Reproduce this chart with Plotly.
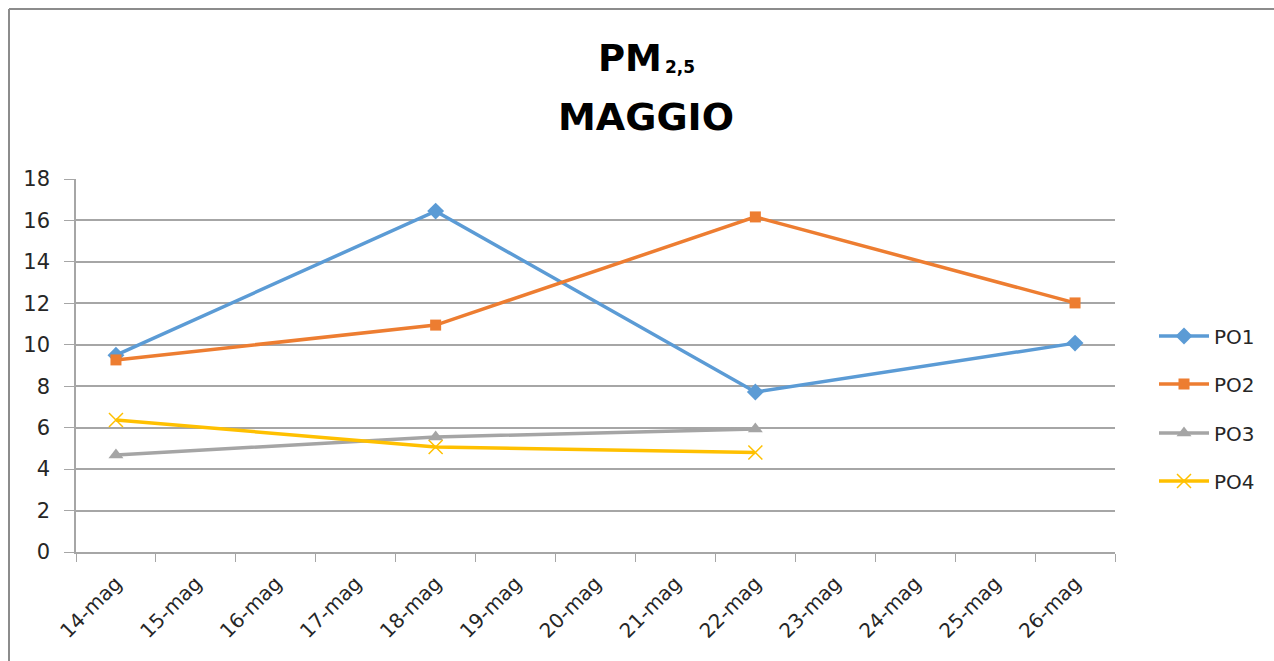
import plotly.graph_objects as go

# Category axis: every day from 14 to 26 May
dates = ["14-mag", "15-mag", "16-mag", "17-mag", "18-mag", "19-mag", "20-mag",
         "21-mag", "22-mag", "23-mag", "24-mag", "25-mag", "26-mag"]

# Measured PM2.5 concentrations per sampling point
po1_dates = ["14-mag", "18-mag", "22-mag", "26-mag"]
po1_vals = [9.5, 16.45, 7.72, 10.08]

po2_dates = ["14-mag", "18-mag", "22-mag", "26-mag"]
po2_vals = [9.27, 10.95, 16.17, 12.02]

po3_dates = ["14-mag", "18-mag", "22-mag"]
po3_vals = [4.68, 5.55, 5.94]

po4_dates = ["14-mag", "18-mag", "22-mag"]
po4_vals = [6.37, 5.07, 4.8]

y_ticks = [0, 2, 4, 6, 8, 10, 12, 14, 16, 18]

W, H = 1274, 661
L, R, T, B = 76, 1115, 179, 552  # plot area in pixels
PW, PH = R - L, B - T


def px_x(px):
    return (px - L) / PW


def px_y(py):
    return (B - py) / PH


FONT = "DejaVu Sans, sans-serif"
TXT = "#262626"
AXIS = "#A6A6A6"

series = [
    ("PO1", po1_dates, po1_vals, "#5B9BD5", dict(symbol="diamond", size=13), "legend", 336),
    ("PO2", po2_dates, po2_vals, "#ED7D31", dict(symbol="square", size=11), "legend2", 384),
    ("PO3", po3_dates, po3_vals, "#A5A5A5", dict(symbol="triangle-up", size=13), "legend3", 433),
    ("PO4", po4_dates, po4_vals, "#FFC000", dict(symbol="x-thin-open", size=14,
                                                 line=dict(width=1.5, color="#FFC000")), "legend4", 481),
]

fig = go.Figure()
for name, xs, ys, color, marker, leg, _ in series:
    fig.add_trace(go.Scatter(
        x=xs, y=ys, name=name, mode="lines+markers",
        line=dict(color=color, width=3.5),
        marker=dict(color=color, **marker),
        legend=leg,
    ))

legend_common = dict(
    font=dict(family=FONT, size=20, color=TXT),
    bgcolor="rgba(0,0,0,0)",
    xanchor="left", yanchor="middle",
    itemwidth=50,
)
layout_legends = {}
for name, _, _, _, _, leg, py in series:
    layout_legends[leg] = dict(x=px_x(1154), y=px_y(py), **legend_common)

fig.update_layout(
    width=W, height=H,
    margin=dict(l=L, r=W - R, t=T, b=H - B),
    paper_bgcolor="white", plot_bgcolor="white",
    font=dict(family=FONT, color=TXT),
    showlegend=True,
    xaxis=dict(
        type="category", categoryorder="array", categoryarray=dates,
        tickvals=dates, ticktext=dates,
        range=[-0.5, len(dates) - 0.5],
        tickson="boundaries", ticks="outside", ticklen=8, tickcolor=AXIS,
        showgrid=False, showline=True, linecolor=AXIS, linewidth=1.5,
        tickangle=-45, tickfont=dict(family=FONT, size=20, color=TXT),
        zeroline=False, ticklabelstandoff=10,
    ),
    yaxis=dict(
        range=[0, 18], tickvals=y_ticks,
        ticks="outside", ticklen=10, tickcolor=AXIS,
        showgrid=True, gridcolor=AXIS, gridwidth=1.5,
        showline=True, linecolor=AXIS, linewidth=1.5,
        tickfont=dict(family=FONT, size=21, color=TXT),
        zeroline=False, ticklabelstandoff=10,
    ),
    **layout_legends,
)

# Chart title: "PM" with subscript "2,5", then "MAGGIO"
fig.add_annotation(
    x=px_x(664), y=px_y(58), xref="paper", yref="paper",
    text="<b>PM</b>", showarrow=False,
    font=dict(family=FONT, size=37, color="black"),
    xanchor="right", yanchor="middle",
)
fig.add_annotation(
    x=px_x(663), y=px_y(67), xref="paper", yref="paper",
    text="<b>2,5</b>", showarrow=False,
    font=dict(family=FONT, size=17, color="black"),
    xanchor="left", yanchor="middle",
)
fig.add_annotation(
    x=px_x(646), y=px_y(117), xref="paper", yref="paper",
    text="<b>MAGGIO</b>", showarrow=False,
    font=dict(family=FONT, size=38, color="black"),
    xanchor="center", yanchor="middle",
)

# Chart-area frame (top and left edges)
fig.add_shape(type="line", xref="paper", yref="paper",
              x0=px_x(9), x1=px_x(W + 5), y0=px_y(9), y1=px_y(9),
              line=dict(color="#8C8C8C", width=2))
fig.add_shape(type="line", xref="paper", yref="paper",
              x0=px_x(9), x1=px_x(9), y0=px_y(9), y1=px_y(H + 5),
              line=dict(color="#8C8C8C", width=2))

fig.write_html("out.html")
